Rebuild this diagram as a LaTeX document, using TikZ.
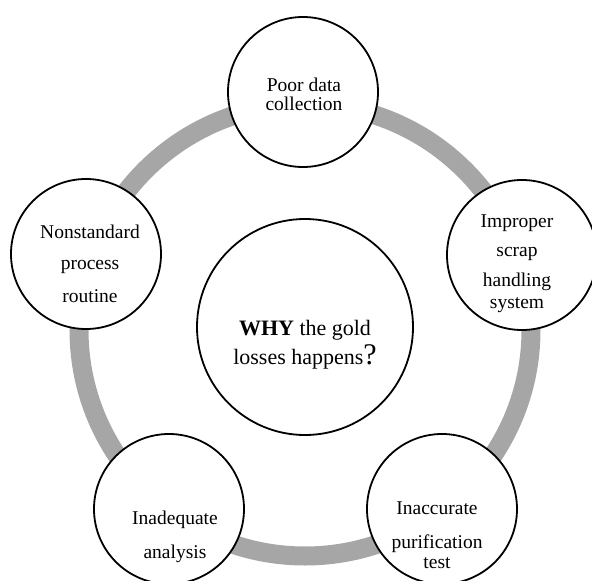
\documentclass[tikz,border=0pt]{standalone}
\usepackage{fontspec}
\setmainfont{Liberation Serif}
\definecolor{ringgray}{RGB}{166,166,166}
\begin{document}
\begin{tikzpicture}[x=1pt,y=-1pt,
  cause/.style={circle,draw=black,line width=1.8pt,fill=white,minimum size=150pt,inner sep=0pt},
  hub/.style={circle,draw=black,line width=1.8pt,fill=white,minimum size=216pt,inner sep=0pt},
  ctext/.style={anchor=base,inner sep=0pt,font=\fontsize{19.5}{22}\selectfont},
  htext/.style={anchor=base,inner sep=0pt,font=\fontsize{22}{26}\selectfont},
  ring/.style={draw=ringgray,line width=19pt}
]
\useasboundingbox (0,0) rectangle (592,581);
\clip (0,0) rectangle (592,581);
\fill[white] (0,0) rectangle (592,581);
\node[circle,minimum size=452pt,inner sep=0pt,ring] (loop) at (305,330) {};
\node[cause] (top) at (303,92) {};
\node[cause] (left) at (86,254) {};
\node[cause] (right) at (522,255) {};
\node[cause] (bl) at (169,509) {};
\node[cause] (br) at (442,509) {};
\node[hub] (why) at (305,327) {};
% texts
\node[ctext] (t1) at (304,91) {Poor data};
\node[ctext] (t2) at (304,110) {collection};
\node[ctext] (l1) at (90,238) {Nonstandard};
\node[ctext] (l2) at (90,269) {process};
\node[ctext] (l3) at (90,302) {routine};
\node[ctext] (r1) at (517,227) {Improper};
\node[ctext] (r2) at (517,256) {scrap};
\node[ctext] (r3) at (517,286) {handling};
\node[ctext] (r4) at (517,308) {system};
\node[ctext] (b1) at (437,514) {Inaccurate};
\node[ctext] (b2) at (437,548) {purification};
\node[ctext] (b3) at (437,568) {test};
\node[ctext] (a1) at (175,524) {Inadequate};
\node[ctext] (a2) at (175,558) {analysis};
\node[htext] (w1) at (305,335) {\textbf{WHY} the gold};
\node[htext] (w2) at (305,364) {losses happens{\fontsize{30}{30}\selectfont ?}};
\end{tikzpicture}
\end{document}
